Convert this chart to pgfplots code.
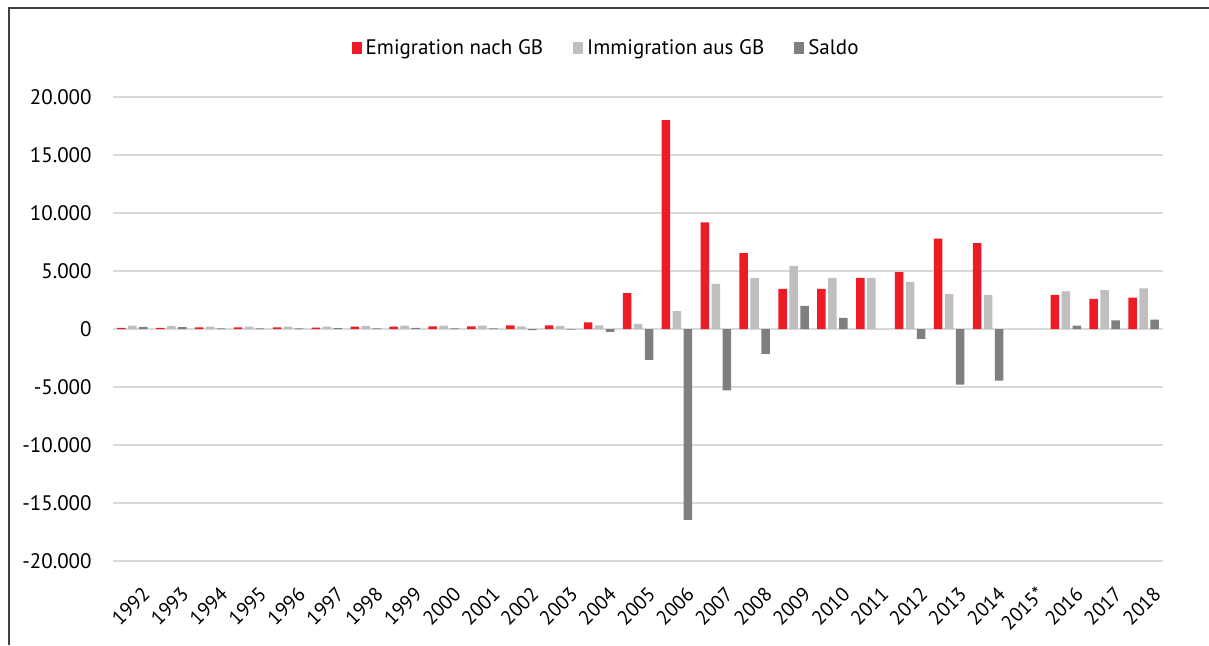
\documentclass[border=0pt]{standalone}
\usepackage{fontspec}
\setmainfont{PT Sans}
\usepackage{pgfplots}
\pgfplotsset{compat=1.18}
\definecolor{emired}{HTML}{ED1C24}
\definecolor{immgray}{HTML}{BFBFBF}
\definecolor{saldogray}{HTML}{7F7F7F}
\definecolor{gridgray}{HTML}{D9D9D9}
\begin{document}
\fontsize{10.5pt}{12pt}\selectfont
\begin{tikzpicture}
\useasboundingbox (0,0) rectangle (604.5pt,322.5pt);
\draw[line width=0.8pt, color=black!75] (4.5pt,0) -- (4.5pt,318.5pt) -- (604.5pt,318.5pt);
\begin{axis}[
  at={(56.5pt,42pt)}, anchor=south west, scale only axis,
  width=525pt, height=232pt,
  ybar=1.25pt, bar width=4.25pt,
  xmin=-0.5, xmax=26.5, ymin=-20000, ymax=20000,
  scaled y ticks=false,
  xtick={0,...,26},
  xticklabels={1992,1993,1994,1995,1996,1997,1998,1999,2000,2001,2002,2003,2004,2005,2006,2007,2008,2009,2010,2011,2012,2013,2014,2015*,2016,2017,2018},
  ytick={-20000,-15000,...,20000},
  yticklabels={-20.000,-15.000,-10.000,-5.000,0,5.000,10.000,15.000,20.000},
  axis line style={draw=none}, major tick length=0pt,
  ymajorgrids, major grid style={gridgray, line width=0.75pt},
  xticklabel style={rotate=45, anchor=north east, inner sep=1pt, yshift=-10.5pt, xshift=-4.5pt, font=\fontsize{10pt}{12pt}\selectfont},
  yticklabel style={xshift=-7pt},
  legend columns=3,
  legend style={draw=none, at={(0.4706,1.105)}, anchor=center,
    /tikz/every even column/.append style={column sep=13pt}},
  legend image code/.code={\fill[#1] (0pt,-3pt) rectangle (5pt,3pt);},
]
\addplot[fill=emired, draw=none] coordinates {
(0,100) (1,90) (2,150) (3,150) (4,150) (5,120) (6,200) (7,200) (8,230) (9,230)
(10,320) (11,320) (12,575) (13,3100) (14,18000) (15,9200) (16,6550) (17,3450)
(18,3450) (19,4400) (20,4900) (21,7800) (22,7400) (24,2950) (25,2600) (26,2700)
};
\addlegendentry{Emigration nach GB}
\addplot[fill=immgray, draw=none] coordinates {
(0,290) (1,260) (2,200) (3,200) (4,200) (5,200) (6,260) (7,290) (8,290) (9,290)
(10,230) (11,260) (12,320) (13,450) (14,1550) (15,3900) (16,4400) (17,5450)
(18,4400) (19,4400) (20,4050) (21,3000) (22,2950) (24,3250) (25,3350) (26,3500)
};
\addlegendentry{Immigration aus GB}
\addplot[fill=saldogray, draw=none] coordinates {
(0,190) (1,170) (2,50) (3,50) (4,50) (5,80) (6,60) (7,90) (8,60) (9,60)
(10,-90) (11,-60) (12,-255) (13,-2650) (14,-16450) (15,-5300) (16,-2150) (17,2000)
(18,950) (19,0) (20,-850) (21,-4800) (22,-4450) (24,300) (25,750) (26,800)
};
\addlegendentry{Saldo}
\end{axis}
\end{tikzpicture}
\end{document}
